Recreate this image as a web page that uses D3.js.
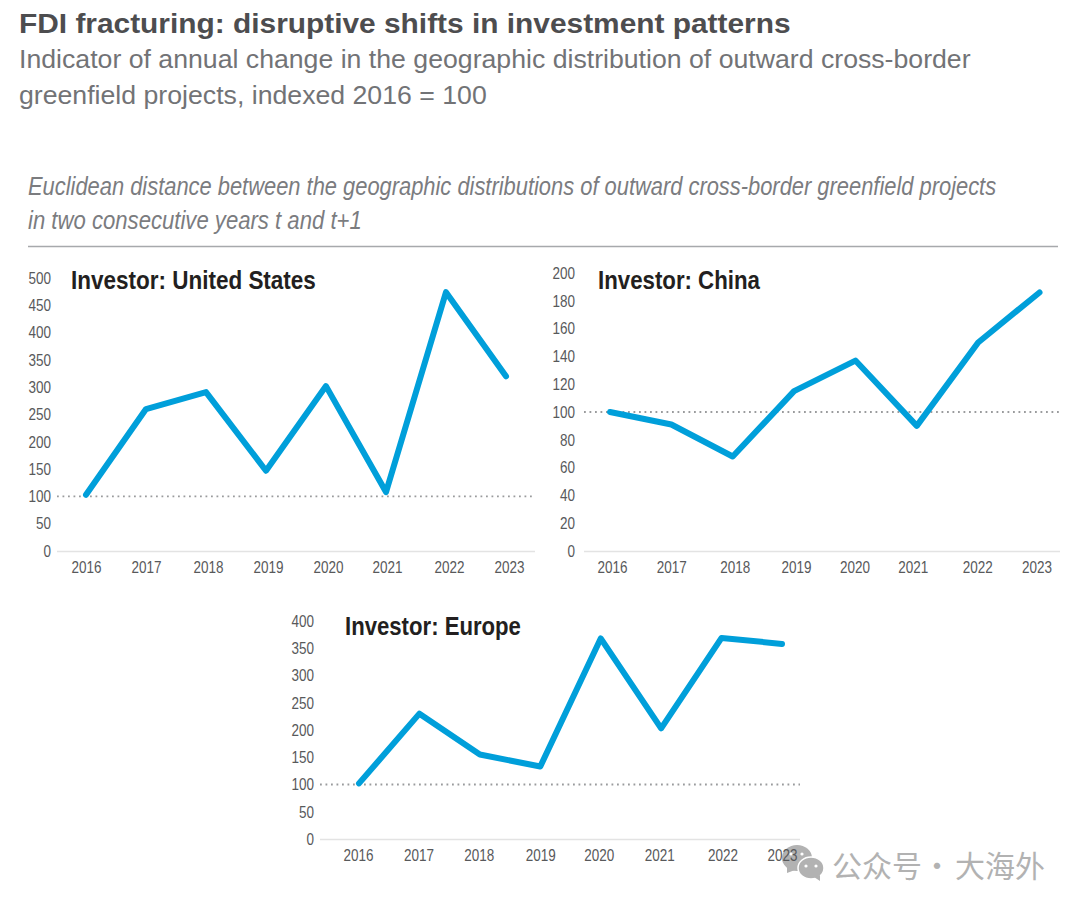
<!DOCTYPE html>
<html lang="en">
<head>
    <meta charset="UTF-8">
    <title>FDI fracturing</title>
    <style>
        body {
            margin: 0;
            background: #fff;
        }

        svg {
            display: block;
        }

        text {
            font-family: "Liberation Sans", Arial, sans-serif;
        }

        .tick text {
            fill: #58595b;
            font-size: 16.5px;
        }

        .axis .domain {
            display: none;
        }
    </style>
</head>
<body>
<script src="https://cdnjs.cloudflare.com/ajax/libs/d3/7.8.5/d3.min.js"></script>
<script>
    const width = 1080;
    const height = 908;

    const years = ['2016', '2017', '2018', '2019', '2020', '2021', '2022', '2023'];

    const usValues = [103, 260, 291, 147, 302, 108, 474, 320];
    const chinaValues = [100, 91, 68, 115, 137, 90, 150, 186];
    const europeValues = [102, 230, 155, 133, 368, 203, 369, 358];

    const usTicks = [0, 50, 100, 150, 200, 250, 300, 350, 400, 450, 500];
    const chinaTicks = [0, 20, 40, 60, 80, 100, 120, 140, 160, 180, 200];
    const europeTicks = [0, 50, 100, 150, 200, 250, 300, 350, 400];

    const COLORS = {
        title: '#4d4d4f',
        subtitle: '#727376',
        note: '#7b7c7f',
        rule: '#a7a9ac',
        axis: '#e3e3e3',
        dots: '#9a9b9d',
        line: '#009fda',
        panelTitle: '#231f20',
        watermark: '#b2b2b2'
    };

    const svg = d3.select('body')
        .append('svg')
        .attr('width', width)
        .attr('height', height);

    // squeezed text, the original uses a condensed Helvetica
    function label(x, y, str, size, len, color, weight, style) {
        const t = svg.append('text')
            .attr('fill', color)
            .style('font-size', size + 'px')
            .style('font-weight', weight || 'normal')
            .style('font-style', style || 'normal')
            .text(str);
        const sx = len / t.node().getComputedTextLength();
        t.attr('transform', `translate(${x},${y}) scale(${sx},1)`);
    }

    function drawWatermark() {
        const g = svg.append('g').attr('fill', COLORS.watermark);
        g.append('ellipse').attr('cx', 797).attr('cy', 858).attr('rx', 15).attr('ry', 13);
        g.append('path').attr('d', 'M787 867 L787 873 L795 870 Z');
        g.append('ellipse')
            .attr('cx', 811)
            .attr('cy', 868)
            .attr('rx', 13)
            .attr('ry', 11)
            .attr('stroke', '#fff')
            .attr('stroke-width', 1.5);
        g.append('path').attr('d', 'M814 877 L820 881 L820 875 Z');
        [[791, 854], [802, 854], [806, 866], [816, 866]].forEach(d => {
            g.append('circle')
                .attr('cx', d[0])
                .attr('cy', d[1])
                .attr('r', 1.6)
                .attr('fill', '#fff');
        });
        const t = svg.append('text')
            .attr('y', 877)
            .attr('fill', COLORS.watermark)
            .style('font-family', '"Noto Sans CJK SC"')
            .style('font-size', '30px');
        t.append('tspan').attr('x', 832).text('公众号');
        t.append('tspan').attr('x', 922).text('·');
        t.append('tspan').attr('x', 955).text('大海外');
    }

    function drawPanel(p) {
        const x = d3.scalePoint().domain(years).range([p.x0, p.x1]);
        const y = d3.scaleLinear().domain([0, p.yMax]).range([p.y0, p.y1]);

        svg.append('line')
            .attr('x1', p.axisLeft)
            .attr('x2', p.axisRight)
            .attr('y1', p.y0 + 0.5)
            .attr('y2', p.y0 + 0.5)
            .attr('stroke', COLORS.axis)
            .attr('stroke-width', 1.3);

        const xAxis = svg.append('g')
            .attr('class', 'axis')
            .attr('transform', `translate(0,${p.y0 + 7})`)
            .call(d3.axisBottom(x).tickSize(0).tickPadding(3));
        // year labels in the original do not sit exactly under the points
        xAxis.selectAll('text')
            .attr('dx', (d, i) => p.labelNudge[i])
            .attr('textLength', 30)
            .attr('lengthAdjust', 'spacingAndGlyphs');

        const yAxis = svg.append('g')
            .attr('class', 'axis')
            .attr('transform', `translate(${p.axisLeft - p.tickGap},0)`)
            .call(d3.axisLeft(y).tickValues(p.ticks).tickSize(0).tickPadding(0));
        yAxis.selectAll('text')
            .attr('textLength', d => String(d).length * 7.5)
            .attr('lengthAdjust', 'spacingAndGlyphs');

        // reference level 2016 = 100
        svg.append('line')
            .attr('x1', p.axisLeft)
            .attr('x2', p.axisRight)
            .attr('y1', y(100))
            .attr('y2', y(100))
            .attr('stroke', COLORS.dots)
            .attr('stroke-width', 1.8)
            .attr('stroke-dasharray', '1.8 3.7');

        const line = d3.line()
            .x((d, i) => x(years[i]))
            .y(d => y(d));

        svg.append('path')
            .datum(p.values)
            .attr('fill', 'none')
            .attr('stroke', COLORS.line)
            .attr('stroke-width', 6)
            .attr('stroke-linejoin', 'round')
            .attr('stroke-linecap', 'round')
            .attr('d', line);

        label(p.titleX, p.titleY, p.title, 26, p.titleLen, COLORS.panelTitle, 'bold');
    }

    drawWatermark();

    label(19, 33, 'FDI fracturing: disruptive shifts in investment patterns', 28, 772, COLORS.title, 'bold');
    label(19, 68, 'Indicator of annual change in the geographic distribution of outward cross-border', 26, 952, COLORS.subtitle);
    label(19, 104, 'greenfield projects, indexed 2016 = 100', 26, 468, COLORS.subtitle);

    label(28, 195, 'Euclidean distance between the geographic distributions of outward cross-border greenfield projects', 26, 969, COLORS.note, 'normal', 'italic');
    label(28, 228.5, 'in two consecutive years t and t+1', 26, 334, COLORS.note, 'normal', 'italic');

    svg.append('line')
        .attr('x1', 28)
        .attr('x2', 1058)
        .attr('y1', 246.5)
        .attr('y2', 246.5)
        .attr('stroke', COLORS.rule)
        .attr('stroke-width', 1.5);

    drawPanel({
        title: 'Investor: United States', titleX: 71, titleY: 288.5, titleLen: 245,
        values: usValues, ticks: usTicks, yMax: 500, tickGap: 6,
        labelNudge: [0, 0, 2, 2, 2, 1, 3, 3],
        x0: 86, x1: 506, y0: 551, y1: 278, axisLeft: 57, axisRight: 535
    });
    drawPanel({
        title: 'Investor: China', titleX: 598, titleY: 288.5, titleLen: 162,
        values: chinaValues, ticks: chinaTicks, yMax: 200, tickGap: 9,
        labelNudge: [2, 0, 2, 2, -1, -4, -1, -3],
        x0: 610, x1: 1039.5, y0: 551, y1: 273, axisLeft: 584, axisRight: 1060
    });
    drawPanel({
        title: 'Investor: Europe', titleX: 345, titleY: 634.5, titleLen: 176,
        values: europeValues, ticks: europeTicks, yMax: 400, tickGap: 6,
        labelNudge: [-1, -1, -1, 0, -2, -2, 1, 0],
        x0: 359, x1: 782, y0: 839, y1: 621, axisLeft: 320, axisRight: 800
    });
</script>
</body>
</html>
